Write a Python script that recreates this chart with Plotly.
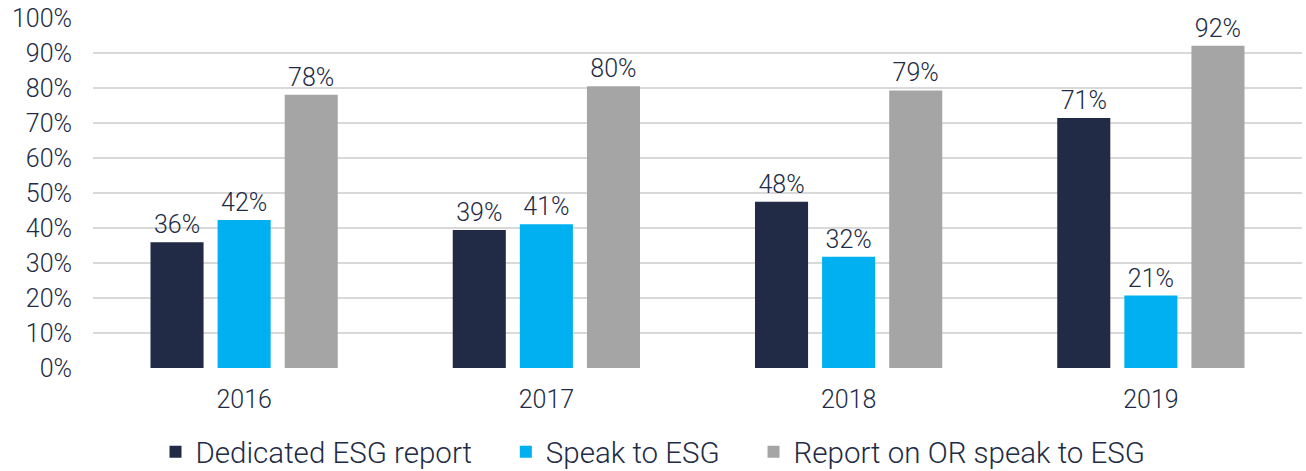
import plotly.graph_objects as go

years = ["2016", "2017", "2018", "2019"]
dedicated = [35.9, 39.4, 47.5, 71.4]
speak = [42.3, 41.1, 31.8, 20.7]
report_or_speak = [78.1, 80.5, 79.3, 92.1]
labels_dedicated = ["36%", "39%", "48%", "71%"]
labels_speak = ["42%", "41%", "32%", "21%"]
labels_report = ["78%", "80%", "79%", "92%"]
tick_vals = [0, 10, 20, 30, 40, 50, 60, 70, 80, 90, 100]
tick_text = ["0%", "10%", "20%", "30%", "40%", "50%", "60%", "70%", "80%", "90%", "100%"]

TEXT = "#222b45"
FONT = "Roboto"
W = 300
PAD = "\u00a0" * 4

series = [
    ("Dedicated ESG report", dedicated, labels_dedicated, "#212b45"),
    ("Speak to ESG", speak, labels_speak, "#00b0f0"),
    ("Report on OR speak to ESG", report_or_speak, labels_report, "#a5a5a5"),
]

fig = go.Figure()
for i, (name, vals, labs, col) in enumerate(series):
    fig.add_trace(go.Bar(
        x=years, y=vals, name=name + (PAD if i < 2 else ""),
        marker=dict(color=col, line=dict(width=0)),
        text=labs, textposition="outside", cliponaxis=False,
        textfont=dict(family=FONT, size=25, color=TEXT, weight=W),
    ))

fig.update_layout(
    width=1306, height=471,
    margin=dict(l=93, r=4, t=18, b=103, autoexpand=False),
    paper_bgcolor="white", plot_bgcolor="white",
    barmode="group", bargap=0.334, bargroupgap=0.209,
    font=dict(family=FONT, color=TEXT, size=25, weight=W),
    showlegend=True,
    legend=dict(
        orientation="h", xref="container",
        x=0.5, xanchor="center", y=-0.24, yanchor="middle",
        font=dict(family=FONT, size=29.5, color=TEXT, weight=W),
        traceorder="normal",
    ),
    xaxis=dict(
        showgrid=False, showline=False, zeroline=False, ticks="",
        ticklabelstandoff=14,
        tickfont=dict(family=FONT, size=25, color=TEXT, weight=W),
    ),
    yaxis=dict(
        range=[0, 100], tickvals=tick_vals, ticktext=tick_text,
        showgrid=True, gridcolor="#d9d9d9", gridwidth=1.5,
        zeroline=False, showline=False, ticks="",
        ticklabelstandoff=20,
        tickfont=dict(family=FONT, size=25, color=TEXT, weight=W),
    ),
)

fig.write_html(
    "out.html",
    config={"displayModeBar": False},
    post_script="document.body.style.margin='0';document.body.style.overflow='hidden';",
)
